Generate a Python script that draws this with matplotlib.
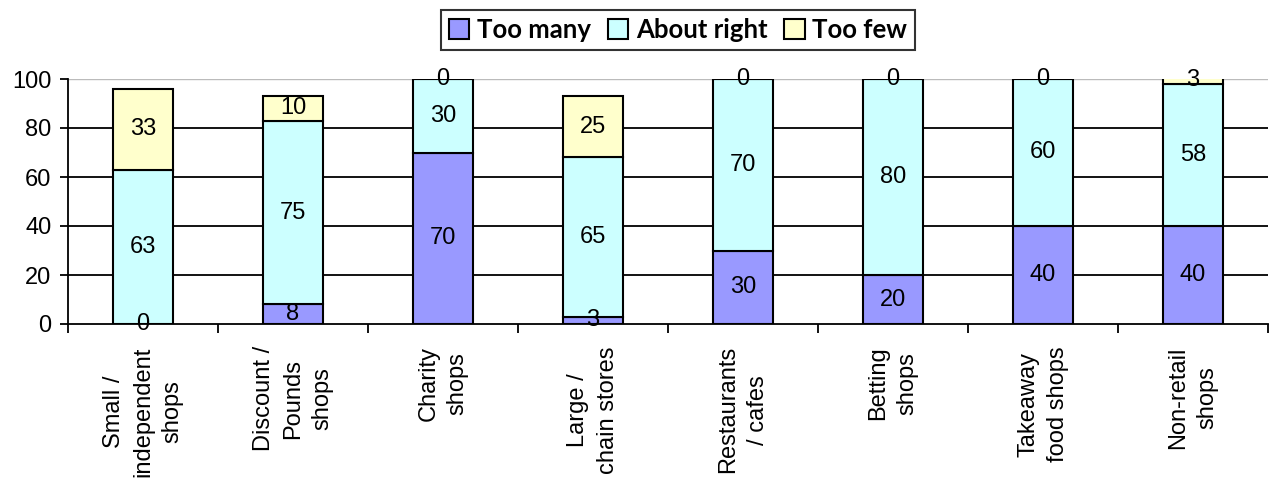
import matplotlib
matplotlib.use("Agg")
import matplotlib.pyplot as plt
import numpy as np
from matplotlib.patches import Patch

categories = ["Small /\nindependent\nshops", "Discount /\nPounds\nshops", "Charity\nshops",
              "Large /\nchain stores", "Restaurants\n/ cafes", "Betting\nshops",
              "Takeaway\nfood shops", "Non-retail\nshops"]
too_many = [0, 8, 70, 3, 30, 20, 40, 40]
about_right = [63, 75, 30, 65, 70, 80, 60, 58]
too_few = [33, 10, 0, 25, 0, 0, 0, 3]
series_names = ["Too many", "About right", "Too few"]
colors = ["#9999FF", "#CCFFFF", "#FFFFCC"]
yticks = [0, 20, 40, 60, 80, 100]

plt.rcParams['font.family'] = ['Liberation Sans', 'DejaVu Sans']

fig = plt.figure(figsize=(12.7, 4.78), dpi=100)
ax = fig.add_axes([68/1270, (478-324)/478, 1200/1270, (324-79)/478])

x = np.arange(len(categories))
series = [too_many, about_right, too_few]
bottom = np.zeros(len(categories))
for vals, col, name in zip(series, colors, series_names):
    vals = np.array(vals, dtype=float)
    ax.bar(x, vals, width=0.4, bottom=bottom, color=col, edgecolor="black",
           linewidth=1.5, zorder=3, label=name)
    for xi, b, v in zip(x, bottom, vals):
        ax.text(xi, b + v/2, f"{int(v)}", ha="center", va="center",
                fontsize=17, zorder=4)
    bottom += vals

ax.set_xlim(-0.5, len(categories) - 0.5)
ax.set_ylim(0, 100)
ax.set_yticks(yticks)
ax.tick_params(axis="y", labelsize=17, length=6, width=1.3, direction="out", pad=6)
for yv in yticks[1:-1]:
    ax.axhline(yv, color="black", linewidth=1.3, zorder=1)
ax.axhline(100, color="#BBBBBB", linewidth=1.0, zorder=1)

ax.set_xticks(np.arange(len(categories) + 1) - 0.5)
ax.set_xticklabels([])
ax.tick_params(axis="x", length=6.5, width=1.3, direction="out")
for xi, lab in zip(x, categories):
    ax.annotate(lab, xy=(xi, 0), xycoords=("data", "axes fraction"),
                xytext=(0, -16), textcoords="offset points",
                rotation=90, ha="center", va="top", multialignment="center",
                fontsize=17, linespacing=1.42, annotation_clip=False)

for s in ["top", "right"]:
    ax.spines[s].set_visible(False)
ax.spines["left"].set_linewidth(1.3)
ax.spines["bottom"].set_linewidth(1.3)

handles = [Patch(facecolor=c, edgecolor="black", linewidth=1.5) for c in colors]
leg = fig.legend(handles, series_names, loc="center", bbox_to_anchor=(678/1270, 1 - 30/478),
                 ncol=3, frameon=True, fancybox=False, edgecolor="black",
                 prop={"family": "Lato", "weight": "bold", "size": 18.5},
                 handlelength=0.8, handleheight=0.8, handletextpad=0.3,
                 columnspacing=0.65, borderpad=0.3, borderaxespad=0)
leg.get_frame().set_linewidth(1.5)

fig.savefig("out.png", dpi=100)
